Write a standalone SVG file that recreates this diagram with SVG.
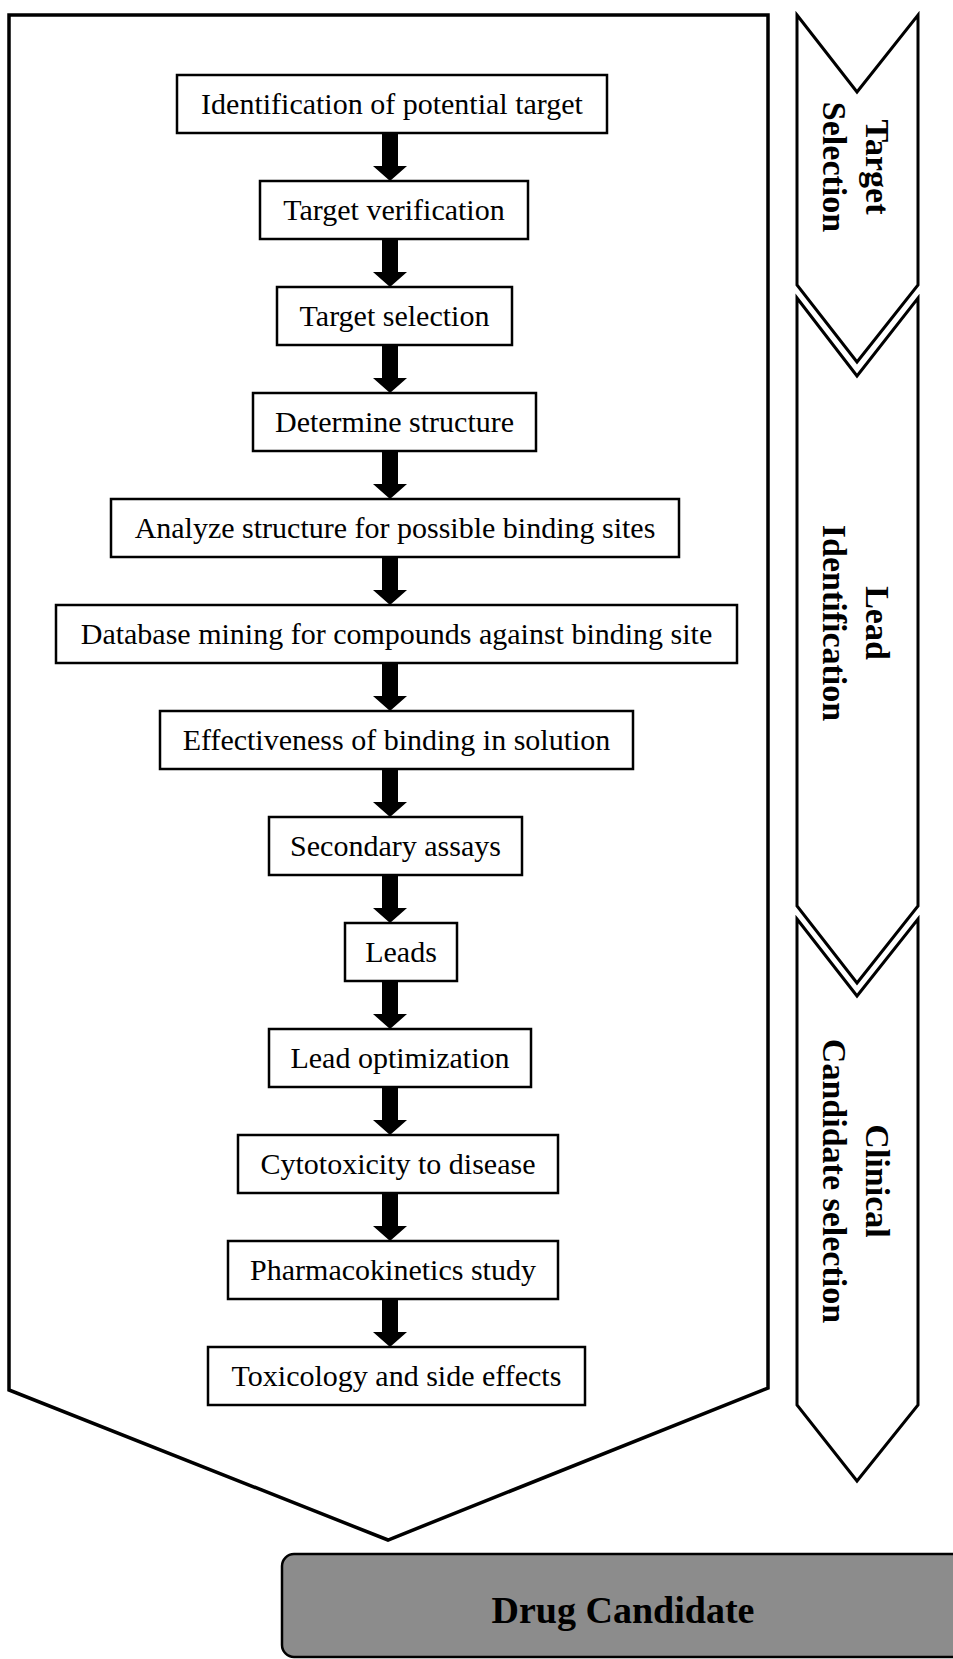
<svg xmlns="http://www.w3.org/2000/svg" width="953" height="1659" viewBox="0 0 953 1659">
  <style>
    .box { fill: #ffffff; stroke: #000000; stroke-width: 2.5; }
    .lbl { font-family: "Liberation Serif", "Times New Roman", serif; font-size: 30px; fill: #000000; text-anchor: middle; }
    .side { font-family: "Liberation Serif", "Times New Roman", serif; font-size: 34px; font-weight: bold; fill: #000000; text-anchor: middle; }
    .frame { fill: #ffffff; stroke: #000000; stroke-width: 3.5; stroke-linejoin: miter; }
    .chev { fill: #ffffff; stroke: #000000; stroke-width: 3; stroke-linejoin: miter; }
    .arrow { fill: #000000; stroke: none; }
  </style>
  <defs>
    <polygon id="arr" points="-8,0 8,0 8,33 17,33 0,48 -17,33 -8,33"/>
  </defs>
  <rect x="0" y="0" width="953" height="1659" fill="#ffffff"/>

  <g id="main-frame">
    <polygon class="frame" points="9,15 768,15 768,1388 388,1540 9,1390"/>
  </g>

  <g id="stage-target-selection">
    <polygon class="chev" points="797,15 857,92 918,15 918,285 857,362 797,285"/>
    <g transform="translate(844,167) rotate(90)">
      <text class="side" x="0" y="-22">Target</text>
      <text class="side" x="0" y="21">Selection</text>
    </g>
  </g>

  <g id="stage-lead-identification">
    <polygon class="chev" points="797,298 857,376 918,298 918,906 857,983 797,906"/>
    <g transform="translate(844,623) rotate(90)">
      <text class="side" x="0" y="-22">Lead</text>
      <text class="side" x="0" y="21">Identification</text>
    </g>
  </g>

  <g id="stage-clinical-candidate">
    <polygon class="chev" points="797,919 857,996 918,919 918,1405 857,1481 797,1405"/>
    <g transform="translate(844,1181) rotate(90)">
      <text class="side" x="0" y="-22">Clinical</text>
      <text class="side" x="0" y="21">Candidate selection</text>
    </g>
  </g>

  <g id="connectors">
    <use href="#arr" class="arrow" transform="translate(390,133)"/>
    <use href="#arr" class="arrow" transform="translate(390,239)"/>
    <use href="#arr" class="arrow" transform="translate(390,345)"/>
    <use href="#arr" class="arrow" transform="translate(390,451)"/>
    <use href="#arr" class="arrow" transform="translate(390,557)"/>
    <use href="#arr" class="arrow" transform="translate(390,663)"/>
    <use href="#arr" class="arrow" transform="translate(390,769)"/>
    <use href="#arr" class="arrow" transform="translate(390,875)"/>
    <use href="#arr" class="arrow" transform="translate(390,981)"/>
    <use href="#arr" class="arrow" transform="translate(390,1087)"/>
    <use href="#arr" class="arrow" transform="translate(390,1193)"/>
    <use href="#arr" class="arrow" transform="translate(390,1299)"/>
  </g>

  <g id="n1"><rect class="box" x="177" y="75" width="430" height="58"/><text class="lbl" x="392" y="114">Identification of potential target</text></g>
  <g id="n2"><rect class="box" x="260" y="181" width="268" height="58"/><text class="lbl" x="394" y="220">Target verification</text></g>
  <g id="n3"><rect class="box" x="277" y="287" width="235" height="58"/><text class="lbl" x="394.5" y="326">Target selection</text></g>
  <g id="n4"><rect class="box" x="253" y="393" width="283" height="58"/><text class="lbl" x="394.5" y="432">Determine structure</text></g>
  <g id="n5"><rect class="box" x="111" y="499" width="568" height="58"/><text class="lbl" x="395" y="538">Analyze structure for possible binding sites</text></g>
  <g id="n6"><rect class="box" x="56" y="605" width="681" height="58"/><text class="lbl" x="396.5" y="644">Database mining for compounds against binding site</text></g>
  <g id="n7"><rect class="box" x="160" y="711" width="473" height="58"/><text class="lbl" x="396.5" y="750">Effectiveness of binding in solution</text></g>
  <g id="n8"><rect class="box" x="269" y="817" width="253" height="58"/><text class="lbl" x="395.5" y="856">Secondary assays</text></g>
  <g id="n9"><rect class="box" x="345" y="923" width="112" height="58"/><text class="lbl" x="401" y="962">Leads</text></g>
  <g id="n10"><rect class="box" x="269" y="1029" width="262" height="58"/><text class="lbl" x="400" y="1068">Lead optimization</text></g>
  <g id="n11"><rect class="box" x="238" y="1135" width="320" height="58"/><text class="lbl" x="398" y="1174">Cytotoxicity to disease</text></g>
  <g id="n12"><rect class="box" x="228" y="1241" width="330" height="58"/><text class="lbl" x="393" y="1280">Pharmacokinetics study</text></g>
  <g id="n13"><rect class="box" x="208" y="1347" width="377" height="58"/><text class="lbl" x="396.5" y="1386">Toxicology and side effects</text></g>

  <g id="drug-candidate">
    <rect x="282" y="1554" width="700" height="103" rx="12" ry="12" fill="#8c8c8c" stroke="#000000" stroke-width="2.5"/>
    <text x="623" y="1623" font-family="Liberation Serif, Times New Roman, serif" font-size="38" font-weight="bold" text-anchor="middle" fill="#000000">Drug Candidate</text>
  </g>
</svg>
